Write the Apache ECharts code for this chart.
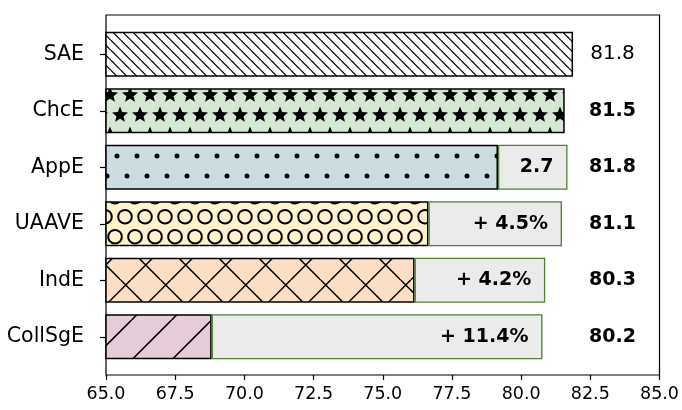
<!DOCTYPE html>
<html>
<head>
<meta charset="utf-8">
<script src="https://cdn.jsdelivr.net/npm/echarts@6/dist/echarts.min.js"></script>
<style>
  html, body { margin: 0; padding: 0; background: #fff; }
  #chart { width: 682px; height: 410px; }
</style>
</head>
<body>
<div id="chart"></div>
<script>
const categories = ["SAE", "ChcE", "AppE", "UAAVE", "IndE", "CollSgE"];
const baseScores = [81.8, 81.5, 79.1, 76.6, 76.1, 68.8];
const boxEnds = [null, null, 81.6, 81.4, 80.8, 80.7];
const boxLabels = ["", "", "2.7", "+ 4.5%", "+ 4.2%", "+ 11.4%"];
const finalScores = ["81.8", "81.5", "81.8", "81.1", "80.3", "80.2"];
const xMin = 65;
const xMax = 85;
const xStep = 2.5;

// x position (in data units) of the score column on the right
const SCORE_X = 83.22;

function tile(w, h, bg, draw) {
  const c = document.createElement("canvas");
  c.width = w;
  c.height = h;
  const ctx = c.getContext("2d");
  ctx.fillStyle = bg;
  ctx.fillRect(0, 0, w, h);
  ctx.strokeStyle = "#000";
  ctx.fillStyle = "#000";
  draw(ctx, w, h);
  return { image: c, repeat: "repeat" };
}

function around(w, h, fn) {
  for (let dx = -1; dx <= 1; dx++)
    for (let dy = -1; dy <= 1; dy++) fn(dx * w, dy * h);
}

function back(ctx, s, p, lw) {
  ctx.lineWidth = lw;
  for (let k = -2; k <= 2; k++) {
    ctx.beginPath();
    ctx.moveTo(p + k * s, 0);
    ctx.lineTo(p + k * s + s, s);
    ctx.stroke();
  }
}

function fwd(ctx, s, q, lw) {
  ctx.lineWidth = lw;
  for (let k = -2; k <= 2; k++) {
    ctx.beginPath();
    ctx.moveTo(q + k * s, 0);
    ctx.lineTo(q + k * s - s, s);
    ctx.stroke();
  }
}

function star(ctx, cx, cy, R) {
  const r = R * 0.45;
  ctx.beginPath();
  for (let i = 0; i < 10; i++) {
    const a = -Math.PI / 2 + i * Math.PI / 5;
    const rr = i % 2 ? r : R;
    const x = cx + rr * Math.cos(a);
    const y = cy + rr * Math.sin(a);
    if (i) ctx.lineTo(x, y); else ctx.moveTo(x, y);
  }
  ctx.closePath();
  ctx.fill();
}

const fills = [
  tile(10, 10, "#ffffff", (ctx, w) => back(ctx, w, 0.7, 1.2)),
  tile(20, 40, "#d5e8d4", (ctx, w, h) => {
    [[10, 15], [0, 35]].forEach(([x, y]) =>
      around(w, h, (ox, oy) => star(ctx, x + ox, y + oy, 8.4)));
  }),
  tile(20, 40, "#ccdde2", (ctx, w, h) => {
    [[17, 36], [7, 16]].forEach(([x, y]) =>
      around(w, h, (ox, oy) => {
        ctx.beginPath();
        ctx.arc(x + ox, y + oy, 2.5, 0, Math.PI * 2);
        ctx.fill();
      }));
  }),
  tile(20, 40, "#fff2cc", (ctx, w, h) => {
    ctx.lineWidth = 2;
    [[5, 16.7], [15, 36.7]].forEach(([x, y]) =>
      around(w, h, (ox, oy) => {
        ctx.beginPath();
        ctx.arc(x + ox, y + oy, 6.8, 0, Math.PI * 2);
        ctx.stroke();
      }));
  }),
  tile(40, 40, "#fcdec4", (ctx, w) => {
    back(ctx, w, 0.7, 1.5);
    fwd(ctx, w, 10.7, 1.5);
  }),
  tile(40, 40, "#e6cbd8", (ctx, w) => fwd(ctx, w, 11.6, 1.5)),
];

const chart = echarts.init(document.getElementById("chart"));
chart.setOption({
  animation: false,
  textStyle: { fontFamily: "DejaVu Sans", color: "#000" },
  grid: [
    { left: 106, right: 20, top: 15, bottom: 35, show: true, borderColor: "#000", borderWidth: 1.2, backgroundColor: "transparent" },
    { left: 106, right: 20, top: 26, bottom: 45 },
  ],
  xAxis: [
    {
      gridIndex: 0, type: "value", min: xMin, max: xMax, interval: xStep,
      axisLine: { show: false },
      axisTick: { show: true, length: 5, lineStyle: { color: "#000", width: 1.2 } },
      axisLabel: { fontSize: 17.5, color: "#000", margin: 10, formatter: (v) => v.toFixed(1) },
      splitLine: { show: false },
    },
    { gridIndex: 1, type: "value", min: xMin, max: xMax, show: false },
  ],
  yAxis: [
    { gridIndex: 0, type: "value", show: false },
    {
      gridIndex: 1, type: "category", data: categories, inverse: true,
      axisLine: { show: false },
      axisTick: { show: true, alignWithLabel: true, length: 6, lineStyle: { color: "#000", width: 1.2 } },
      axisLabel: { fontSize: 20.5, color: "#000", margin: 22 },
    },
  ],
  series: [
    {
      type: "bar", xAxisIndex: 1, yAxisIndex: 1, stack: "s", clip: true,
      barWidth: 45,
      data: baseScores.map((v, i) => ({ value: v, itemStyle: { color: fills[i] } })),
      itemStyle: { borderColor: "#000", borderWidth: 1.5 },
    },
    {
      type: "bar", xAxisIndex: 1, yAxisIndex: 1, stack: "s", clip: true,
      barWidth: 45,
      data: boxEnds.map((e, i) => (e == null ? "-" : +(e - baseScores[i]).toFixed(2))),
      itemStyle: { color: "#ebebeb", borderColor: "#4e7f33", borderWidth: 1.3 },
      label: {
        show: true, position: "insideRight", distance: 14,
        fontSize: 19, fontWeight: "bold", color: "#000",
        formatter: (p) => boxLabels[p.dataIndex],
      },
    },
    {
      type: "scatter", xAxisIndex: 1, yAxisIndex: 1,
      symbolSize: 0, itemStyle: { color: "#fff", opacity: 1 },
      data: categories.map((c, i) => ({
        value: [SCORE_X, i],
        label: { fontWeight: i === 0 ? "normal" : "bold", fontSize: i === 0 ? 20 : 19 },
      })),
      label: {
        show: true, position: "inside", color: "#000", textBorderWidth: 0,
        formatter: (p) => finalScores[p.dataIndex],
      },
    },
  ],
});
</script>
</body>
</html>
